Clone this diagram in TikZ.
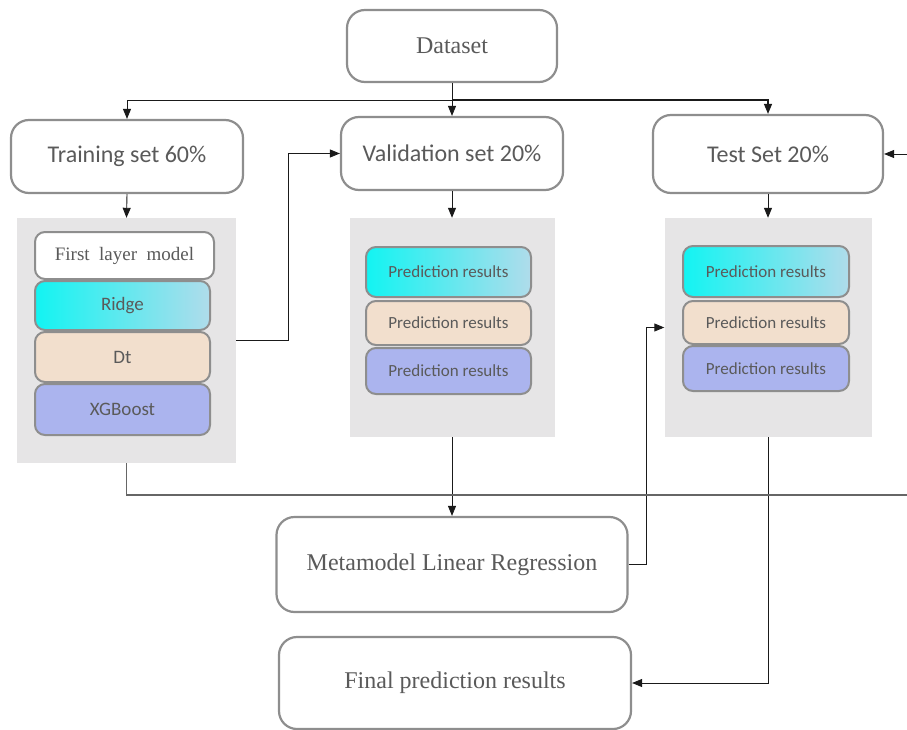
\documentclass[tikz,border=0pt]{standalone}
\usepackage{fontspec}
\setmainfont{Liberation Serif}
\newfontfamily\calfont{Carlito}
\usetikzlibrary{arrows.meta}
\definecolor{boxline}{HTML}{8E8E8E}
\definecolor{txt}{HTML}{5A5A5A}
\definecolor{panelgray}{HTML}{E6E5E6}
\definecolor{peach}{HTML}{F2DFCD}
\definecolor{lavender}{HTML}{ABB4EE}
\definecolor{cyanL}{HTML}{12F4F2}
\definecolor{cyanM}{HTML}{86E8EF}
\definecolor{blueR}{HTML}{B0DCEB}
\definecolor{conn}{HTML}{1A1A1A}
\tikzset{
  bigbox/.style={draw=boxline, line width=2.2pt, rounded corners=18pt, fill=white, text=txt, align=center, inner sep=0pt},
  serifbig/.style={font=\fontsize{24}{28}\selectfont},
  sansbig/.style={font=\calfont\fontsize{24}{28}\selectfont},
  panel/.style={fill=panelgray, draw=none, inner sep=0pt},
  inbox/.style={draw=boxline, line width=2pt, rounded corners=10pt, text=txt, inner sep=0pt, font=\calfont\fontsize{17}{20}\selectfont},
  modelfont/.style={font=\calfont\fontsize{19}{22}\selectfont},
  grad/.style={inbox, left color=cyanL, middle color=cyanM, right color=blueR},
  arr/.style={draw=conn, line width=0.9pt, -{Triangle[length=10pt,width=8pt]}},
  ln/.style={draw=conn, line width=0.9pt}
}
\begin{document}
\begin{tikzpicture}[x=1pt,y=-1pt]
\useasboundingbox (0,0) rectangle (907,730);
% main boxes
\node[bigbox, serifbig, minimum width=210pt, minimum height=72pt] (dataset) at (452,46) {Dataset};
\node[bigbox, sansbig, minimum width=232pt, minimum height=73pt] (train) at (127,156.5) {Training set 60\%};
\node[bigbox, sansbig, minimum width=222pt, minimum height=73pt] (valid) at (452,153.5) {Validation set 20\%};
\node[bigbox, sansbig, minimum width=230pt, minimum height=78pt] (test) at (768,154) {Test Set 20\%};
% panels
\node[panel, minimum width=219pt, minimum height=245pt] (panel1) at (126.5,340.5) {};
\node[panel, minimum width=205pt, minimum height=219pt] (panel2) at (452,327.5) {};
\node[panel, minimum width=207pt, minimum height=219pt] (panel3) at (768,327.5) {};
% panel 1 contents
\node[inbox, fill=white, font=\fontsize{19}{22}\selectfont, minimum width=179pt, minimum height=47pt] (first) at (124.5,255.5) {First\ \ layer\ \ model};
\node[grad, modelfont, minimum width=175pt, minimum height=49pt] (ridge) at (122.5,305.5) {Ridge};
\node[inbox, modelfont, fill=peach, minimum width=175pt, minimum height=50pt] (dt) at (122.5,357) {Dt};
\node[inbox, modelfont, fill=lavender, minimum width=175pt, minimum height=51pt] (xgb) at (122.5,409.5) {XGBoost};
% panel 2 contents
\node[grad, minimum width=165pt, minimum height=50pt] (pva) at (448.5,272) {Prediction results};
\node[inbox, fill=peach, minimum width=165pt, minimum height=44pt] (pvb) at (448.5,323) {Prediction results};
\node[inbox, fill=lavender, minimum width=165pt, minimum height=46pt] (pvc) at (448.5,371) {Prediction results};
% panel 3 contents
\node[grad, minimum width=166pt, minimum height=51pt] (pta) at (766,271.5) {Prediction results};
\node[inbox, fill=peach, minimum width=166pt, minimum height=43pt] (ptb) at (766,322.5) {Prediction results};
\node[inbox, fill=lavender, minimum width=166pt, minimum height=45pt] (ptc) at (766,368.5) {Prediction results};
% bottom boxes
\node[bigbox, serifbig, minimum width=351pt, minimum height=95pt] (meta) at (452,564.5) {Metamodel Linear Regression};
\node[bigbox, serifbig, minimum width=352pt, minimum height=92pt] (final) at (455,683) {Final prediction results};
% split coordinates
\coordinate (split) at (452,100);
\coordinate (farright) at (912,495);
% connectors
\draw[ln] (dataset.south) -- (split);
\draw[arr] (split) -| (train.north);
\draw[arr] (split) -- (valid.north);
\draw[arr, line width=1.3pt] (split) -| (test.north);
\draw[arr] (train.south) -- (panel1.north);
\draw[arr] (valid.south) -- (panel2.north);
\draw[arr] (test.south) -- (panel3.north);
\draw[arr] (panel1.east) -- ++(52,0) |- (valid.west);
\draw[arr] (panel2.south) -- (meta.north);
\draw[arr] (meta.east) -- ++(18,0) |- (panel3.west);
\draw[arr] (panel3.south) |- (final.east);
\draw[ln, draw=black!60, line width=1.4pt] (panel1.south) |- (farright);
\draw[arr] (farright) |- (test.east);
\end{tikzpicture}
\end{document}
